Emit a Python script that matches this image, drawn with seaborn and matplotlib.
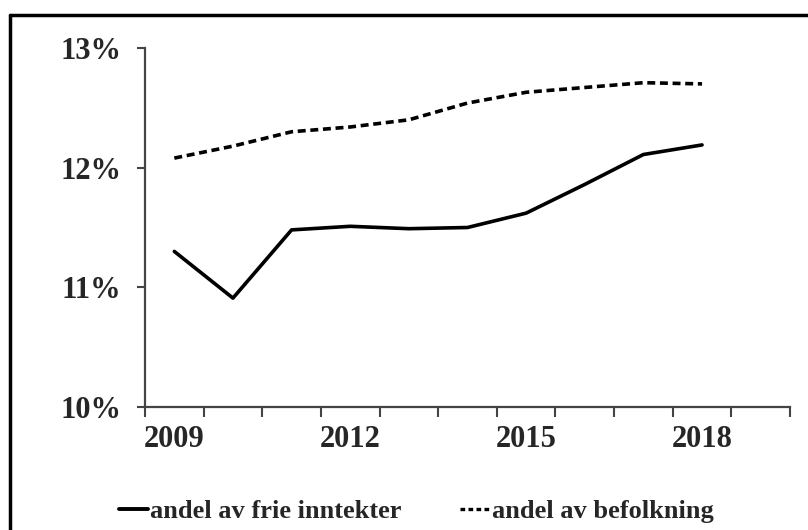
import pandas as pd
import matplotlib.pyplot as plt
import seaborn as sns
from matplotlib.lines import Line2D

# Data
years = [2009, 2010, 2011, 2012, 2013, 2014, 2015, 2016, 2017, 2018]
frie_inntekter = [11.30, 10.91, 11.48, 11.51, 11.49, 11.50, 11.62, 11.86, 12.11, 12.19]
befolkning = [12.08, 12.18, 12.30, 12.34, 12.40, 12.54, 12.63, 12.67, 12.71, 12.70]
year_labels = [2009, 2012, 2015, 2018]
y_ticks = [10, 11, 12, 13]
series_names = ["andel av frie inntekter", "andel av befolkning"]

df = pd.DataFrame({
    "year": years * 2,
    "value": frie_inntekter + befolkning,
    "serie": [series_names[0]] * len(years) + [series_names[1]] * len(years),
})

sns.set_style("white")
plt.rcParams["font.family"] = ["Liberation Serif", "DejaVu Serif"]
plt.rcParams["font.weight"] = "bold"

fig = plt.figure(figsize=(8.08, 5.30), dpi=100)
ax = fig.add_axes([145 / 808, 1 - 407 / 530, (790 - 145) / 808, (407 - 48) / 530])

sns.lineplot(data=df, x="year", y="value", style="serie", color="black",
             dashes={series_names[0]: "", series_names[1]: (2.2, 1.3)},
             linewidth=2.6, legend=False, ax=ax)

ax.set_xlim(2008.5, 2019.5)
ax.set_ylim(10, 13)
ax.set_xlabel("")
ax.set_ylabel("")

# category-style axis: tick marks between years, labels at selected years
ax.set_xticks(year_labels)
ax.set_xticklabels([str(y) for y in year_labels], fontsize=22, fontweight="bold")
ax.set_xticks([y - 0.5 for y in years] + [2018.5, 2019.5], minor=True)
ax.tick_params(axis="x", which="major", bottom=True, length=0, pad=13)
ax.tick_params(axis="x", which="minor", bottom=True, length=7, width=1.5,
               color="#444444", direction="out")

ax.set_yticks(y_ticks)
ax.set_yticklabels([f"{v}%" for v in y_ticks], fontsize=22, fontweight="bold")
ax.tick_params(axis="y", left=True, length=6, width=1.5, color="#444444",
               direction="out", pad=11)

for side in ["top", "right"]:
    ax.spines[side].set_visible(False)
for side in ["left", "bottom"]:
    ax.spines[side].set_color("#444444")
    ax.spines[side].set_linewidth(1.6)

# legend at the bottom
handles = [
    Line2D([], [], color="black", lw=2.8, linestyle="-"),
    Line2D([], [], color="black", lw=2.4, linestyle=(0, (1.4, 1.0))),
]
fig.legend(handles, series_names, loc="center", bbox_to_anchor=(0.515, 0.035),
           ncol=2, frameon=False, handlelength=1.1, handletextpad=0.1,
           columnspacing=2.2, prop={"family": "Liberation Serif", "weight": "bold", "size": 19})

# frame around the chart (right and bottom edges are cut off in the original)
top = 1 - 15 / 530
left = 10 / 808
fig.add_artist(Line2D([left, 1], [top, top], transform=fig.transFigure, color="black", lw=2.5))
fig.add_artist(Line2D([left, left], [0, top], transform=fig.transFigure, color="black", lw=2.5))

fig.savefig("out.png", dpi=100, facecolor="white")
